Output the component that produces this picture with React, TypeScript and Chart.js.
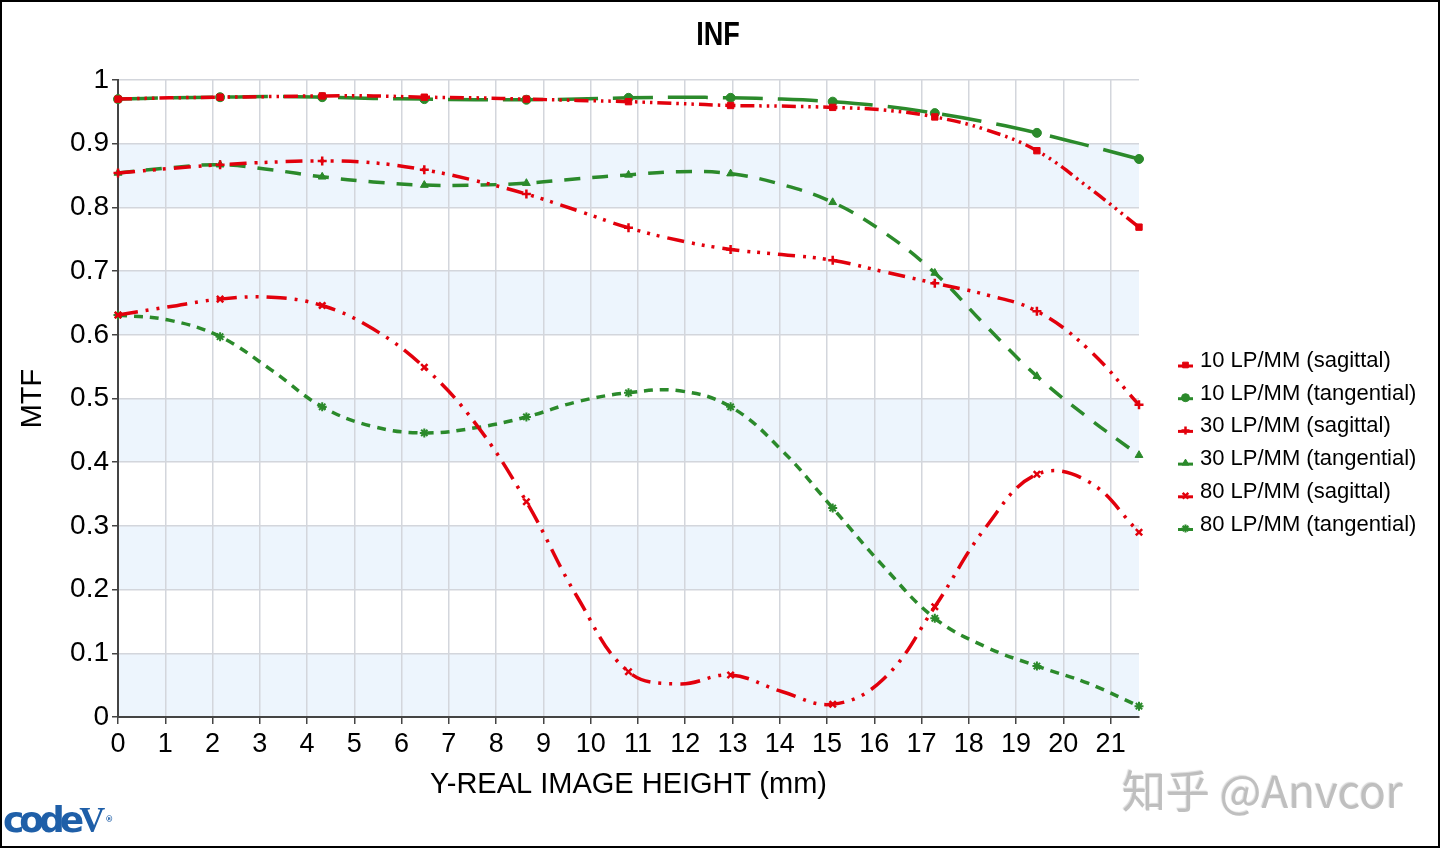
import React, { useEffect, useRef } from "react";
import { Chart, registerables } from "chart.js";
import { drawPoint } from "chart.js/helpers";

Chart.register(...registerables);

// Field positions (mm) at which the curves are read
const fieldHeights = [0, 1.08, 2.16, 3.24, 4.32, 5.4, 6.48, 7.56, 8.64, 9.72, 10.8, 11.88, 12.96, 14.04, 15.12, 16.2, 17.28, 18.36, 19.44, 20.52, 21.6];

const mtf10Sag = [0.970, 0.972, 0.973, 0.974, 0.975, 0.975, 0.973, 0.972, 0.970, 0.968, 0.966, 0.963, 0.960, 0.959, 0.957, 0.953, 0.942, 0.922, 0.889, 0.832, 0.769];
const mtf10Tan = [0.970, 0.972, 0.973, 0.974, 0.973, 0.971, 0.970, 0.969, 0.969, 0.970, 0.972, 0.973, 0.972, 0.970, 0.966, 0.959, 0.948, 0.934, 0.917, 0.897, 0.876];
const mtf30Sag = [0.854, 0.861, 0.867, 0.871, 0.873, 0.870, 0.859, 0.842, 0.821, 0.795, 0.768, 0.748, 0.734, 0.726, 0.717, 0.699, 0.681, 0.663, 0.637, 0.578, 0.490];
const mtf30Tan = [0.854, 0.862, 0.867, 0.859, 0.848, 0.840, 0.835, 0.835, 0.838, 0.845, 0.851, 0.856, 0.853, 0.836, 0.808, 0.761, 0.697, 0.614, 0.535, 0.470, 0.411];
const mtf80Sag = [0.631, 0.644, 0.656, 0.659, 0.646, 0.609, 0.549, 0.461, 0.338, 0.188, 0.071, 0.052, 0.066, 0.040, 0.020, 0.060, 0.173, 0.298, 0.381, 0.370, 0.290];
const mtf80Tan = [0.631, 0.623, 0.597, 0.545, 0.487, 0.456, 0.446, 0.454, 0.471, 0.495, 0.509, 0.512, 0.487, 0.419, 0.328, 0.236, 0.155, 0.110, 0.080, 0.053, 0.017];

const seriesLabels = [
  "10 LP/MM (sagittal)",
  "10 LP/MM (tangential)",
  "30 LP/MM (sagittal)",
  "30 LP/MM (tangential)",
  "80 LP/MM (sagittal)",
  "80 LP/MM (tangential)",
];

const chartTitle = "INF";
const xTickValues = [0, 1, 2, 3, 4, 5, 6, 7, 8, 9, 10, 11, 12, 13, 14, 15, 16, 17, 18, 19, 20, 21];
const yTickValues = [0, 0.1, 0.2, 0.3, 0.4, 0.5, 0.6, 0.7, 0.8, 0.9, 1];
const yTickLabels = ["0", "0.1", "0.2", "0.3", "0.4", "0.5", "0.6", "0.7", "0.8", "0.9", "1"];
const shadedBands = [[0, 0.1], [0.2, 0.3], [0.4, 0.5], [0.6, 0.7], [0.8, 0.9]];

const RED = "#e2000c";
const GREEN = "#2b8a2b";
const FONT = '"Liberation Sans", Arial, sans-serif';

const bandPlugin = {
  id: "bands",
  beforeDraw(chart: any) {
    const { ctx, chartArea, scales } = chart;
    const y = scales.y;
    ctx.save();
    ctx.fillStyle = "#edf5fd";
    for (const [lo, hi] of shadedBands) {
      const top = y.getPixelForValue(hi);
      const bottom = y.getPixelForValue(lo);
      ctx.fillRect(chartArea.left, top, chartArea.right - chartArea.left, bottom - top);
    }
    ctx.restore();
  },
};

// Title (condensed bold, centred on the whole figure) and legend beside the plot
const decorPlugin = {
  id: "decor",
  afterDraw(chart: any) {
    const { ctx, chartArea } = chart;
    // title
    ctx.save();
    ctx.font = "bold 33px " + FONT;
    ctx.fillStyle = "#000";
    ctx.textAlign = "center";
    ctx.textBaseline = "alphabetic";
    ctx.translate(chart.width / 2 - 2, 45);
    ctx.scale(0.82, 1);
    ctx.fillText(chartTitle, 0, 0);
    ctx.restore();

    // legend
    const x0 = chartArea.right + 39;
    const y0 = chartArea.top + 281;
    const step = 32.7;
    chart.data.datasets.forEach((ds: any, i: number) => {
      const y = y0 + i * step;
      ctx.save();
      ctx.strokeStyle = ds.borderColor;
      ctx.fillStyle = ds.borderColor;
      ctx.lineWidth = 3;
      ctx.setLineDash([]);
      ctx.beginPath();
      ctx.moveTo(x0, y + 5);
      ctx.lineTo(x0 + 15, y + 5);
      ctx.stroke();
      ctx.lineWidth = ds.pointBorderWidth;
      drawPoint(ctx, { pointStyle: ds.pointStyle, radius: 4, borderWidth: ds.pointBorderWidth, rotation: 0 } as any, x0 + 7.5, y + 4);
      ctx.fillStyle = "#000";
      ctx.font = "22px " + FONT;
      ctx.textBaseline = "middle";
      ctx.textAlign = "left";
      ctx.fillText(ds.label, x0 + 22, y);
      ctx.restore();
    });
  },
};

function makeSeries(label: string, values: number[], color: string, dash: number[], pointStyle: string, pointBorder: number) {
  return {
    label,
    data: fieldHeights.map((x, i) => ({ x, y: values[i] })),
    borderColor: color,
    backgroundColor: color,
    borderWidth: 3.5,
    borderDash: dash,
    borderCapStyle: "butt",
    tension: 0.4,
    pointStyle,
    pointRadius: (c: any) => (c.dataIndex % 2 === 0 ? 4.5 : 0),
    pointHoverRadius: 0,
    pointBorderWidth: pointBorder,
    pointBorderColor: color,
    pointBackgroundColor: color,
    clip: 10,
  };
}

export default function App() {
  const ref = useRef<HTMLCanvasElement | null>(null);

  useEffect(() => {
    if (!ref.current) return;
    const datasets = [
      makeSeries(seriesLabels[0], mtf10Sag, RED, [14, 5, 2.5, 5, 2.5, 5, 2.5, 5], "rect", 1),
      makeSeries(seriesLabels[1], mtf10Tan, GREEN, [40, 15], "circle", 1),
      makeSeries(seriesLabels[2], mtf30Sag, RED, [17, 8, 3, 7, 3, 7, 3, 8], "cross", 2.5),
      makeSeries(seriesLabels[3], mtf30Tan, GREEN, [16, 12], "triangle", 1),
      makeSeries(seriesLabels[4], mtf80Sag, RED, [20, 8, 3, 8, 3, 8], "crossRot", 2.5),
      makeSeries(seriesLabels[5], mtf80Tan, GREEN, [9, 7], "star", 2),
    ];
    const chart = new Chart(ref.current, {
      type: "line",
      data: { datasets: datasets as any },
      plugins: [bandPlugin, decorPlugin],
      options: {
        responsive: false,
        animation: false,
        events: [],
        layout: { padding: { left: 0, right: 301, top: 80, bottom: 0 } },
        plugins: {
          title: { display: false },
          legend: { display: false },
          tooltip: { enabled: false },
        },
        scales: {
          x: {
            type: "linear",
            min: 0,
            max: 21.6,
            afterBuildTicks: (s: any) => {
              s.ticks = xTickValues.map((v) => ({ value: v }));
            },
            afterFit: (s: any) => {
              s.height = 131;
            },
            ticks: {
              color: "#000",
              font: { family: FONT, size: 27 },
              padding: 4,
              maxRotation: 0,
              autoSkip: false,
              callback: (v: any) => String(v),
            },
            grid: { color: "#d3d6dc", lineWidth: 1.5, tickColor: "#444", tickLength: 7, tickWidth: 1.5 },
            border: { display: true, color: "#444", width: 2 },
            title: {
              display: true,
              text: "Y-REAL IMAGE HEIGHT (mm)",
              color: "#000",
              font: { family: FONT, size: 29 },
              padding: { top: 0, bottom: 46 },
            },
          },
          y: {
            type: "linear",
            min: 0,
            max: 1,
            afterBuildTicks: (s: any) => {
              s.ticks = yTickValues.map((v) => ({ value: v }));
            },
            afterFit: (s: any) => {
              s.width = 118;
            },
            ticks: {
              color: "#000",
              font: { family: FONT, size: 28 },
              padding: 3,
              callback: (_v: any, i: number) => yTickLabels[i],
            },
            grid: { color: "#d3d6dc", lineWidth: 1.5, tickColor: "#444", tickLength: 6, tickWidth: 1.5 },
            border: { display: true, color: "#444", width: 2 },
            title: {
              display: true,
              text: "MTF",
              color: "#000",
              font: { family: FONT, size: 29 },
              padding: { top: 16, bottom: 0 },
            },
          },
        },
      } as any,
    });
    return () => chart.destroy();
  }, []);

  return (
    <div style={{ position: "absolute", left: 0, top: 0, width: 1440, height: 848, background: "#fff", overflow: "hidden" }}>
      <canvas ref={ref} width={1440} height={848} style={{ position: "absolute", left: 0, top: 0, width: 1440, height: 848 }} />
      <div
        style={{
          position: "absolute",
          left: 3,
          top: 798,
          fontFamily: '"DejaVu Sans", sans-serif',
          fontWeight: 900,
          fontSize: 36,
          lineHeight: "44px",
          color: "#1f5fa8",
          letterSpacing: -5,
          whiteSpace: "nowrap",
        }}
      >
        code<span style={{ fontFamily: '"Liberation Serif", serif', fontSize: 36, letterSpacing: 0 }}>V</span>
        <span style={{ fontSize: 8, verticalAlign: "top", letterSpacing: 0 }}>®</span>
      </div>
      <div
        style={{
          position: "absolute",
          left: 1122,
          top: 765,
          fontFamily: '"Noto Sans CJK SC", "Noto Sans", sans-serif',
          fontSize: 44,
          lineHeight: "48px",
          color: "rgba(185,185,185,0.9)",
          textShadow: "1px 1px 1px rgba(255,255,255,0.8), -1px -1px 1px rgba(120,120,120,0.3)",
          whiteSpace: "nowrap",
        }}
      >
        知乎 @Anvcor
      </div>
      <div
        style={{
          position: "absolute",
          left: 0,
          top: 0,
          width: 1440,
          height: 848,
          boxSizing: "border-box",
          border: "2px solid #000",
          pointerEvents: "none",
        }}
      />
    </div>
  );
}
